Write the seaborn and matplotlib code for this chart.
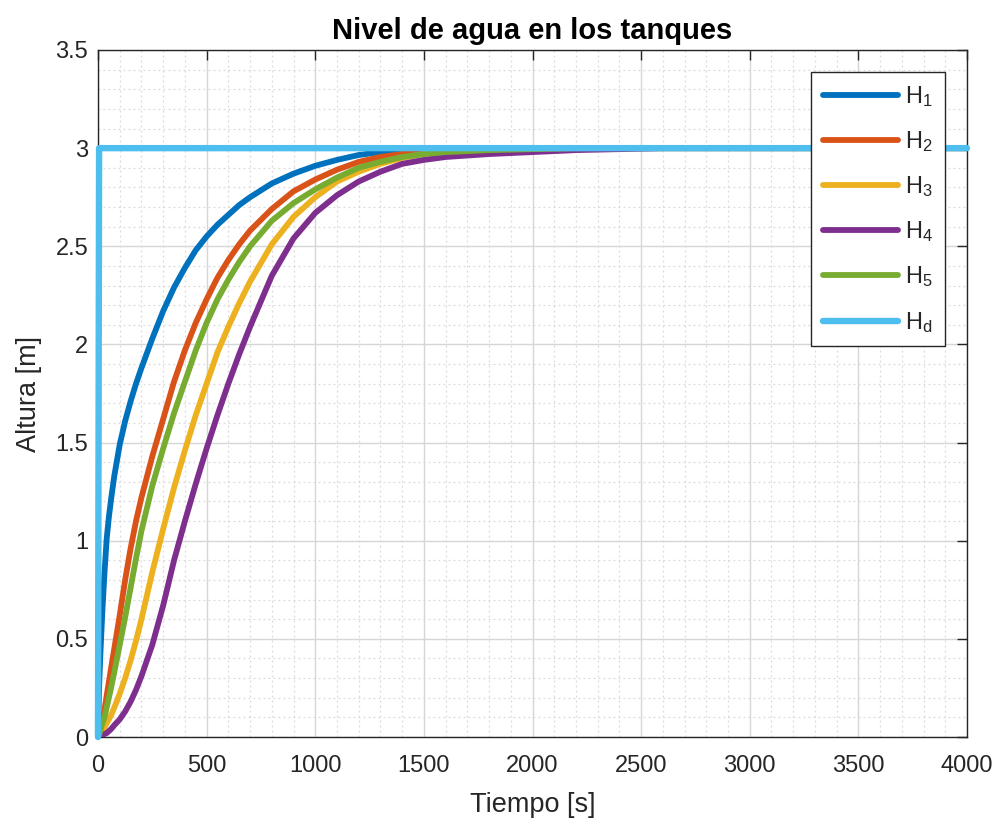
import numpy as np
import pandas as pd
import matplotlib
matplotlib.use("Agg")
import matplotlib.pyplot as plt
from matplotlib.ticker import MultipleLocator
import seaborn as sns

# Simulation time samples [s]
tiempo = [0, 5, 10, 20, 30, 40, 50, 60, 75, 100, 125, 150, 175, 200, 250, 300,
          350, 400, 450, 500, 550, 600, 650, 700, 800, 900, 1000, 1100, 1200,
          1300, 1400, 1500, 1600, 1800, 2000, 2200, 2400, 2600, 3000, 4000]

# Tank levels [m]
h1 = [0.0, 0.25, 0.40, 0.64, 0.84, 1.01, 1.12, 1.21, 1.33, 1.49, 1.61, 1.71, 1.80,
      1.88, 2.03, 2.17, 2.29, 2.39, 2.48, 2.55, 2.61, 2.66, 2.71, 2.75, 2.82, 2.87,
      2.91, 2.94, 2.965, 2.98, 2.99, 2.995, 3.0, 3.0, 3.0, 3.0, 3.0, 3.0, 3.0, 3.0]
h2 = [0.0, 0.01, 0.03, 0.08, 0.14, 0.21, 0.28, 0.35, 0.45, 0.62, 0.80, 0.96, 1.10,
      1.22, 1.43, 1.62, 1.81, 1.97, 2.11, 2.23, 2.34, 2.43, 2.51, 2.58, 2.69, 2.78,
      2.84, 2.89, 2.93, 2.955, 2.97, 2.98, 2.99, 2.995, 3.0, 3.0, 3.0, 3.0, 3.0, 3.0]
h3 = [0.0, 0.0, 0.01, 0.03, 0.05, 0.07, 0.09, 0.11, 0.15, 0.22, 0.30, 0.39, 0.49,
      0.60, 0.84, 1.06, 1.27, 1.46, 1.64, 1.80, 1.96, 2.09, 2.21, 2.32, 2.51, 2.65,
      2.75, 2.83, 2.88, 2.92, 2.95, 2.97, 2.98, 2.99, 2.995, 3.0, 3.0, 3.0, 3.0, 3.0]
h4 = [0.0, 0.0, 0.0, 0.01, 0.015, 0.02, 0.03, 0.04, 0.06, 0.09, 0.13, 0.18, 0.24,
      0.31, 0.47, 0.67, 0.90, 1.10, 1.29, 1.47, 1.64, 1.80, 1.95, 2.09, 2.35, 2.54,
      2.67, 2.76, 2.83, 2.88, 2.92, 2.94, 2.955, 2.97, 2.98, 2.99, 2.995, 3.0, 3.0, 3.0]
h5 = [0.0, 0.01, 0.03, 0.07, 0.10, 0.15, 0.20, 0.25, 0.33, 0.47, 0.61, 0.76, 0.91,
      1.05, 1.28, 1.47, 1.65, 1.81, 1.97, 2.11, 2.23, 2.33, 2.42, 2.50, 2.63, 2.72,
      2.79, 2.85, 2.90, 2.93, 2.955, 2.97, 2.98, 2.99, 2.995, 3.0, 3.0, 3.0, 3.0, 3.0]

# Reference level (step applied at start)
tiempo_ref = [0, 5, 4000]
hd = [0.0, 3.0, 3.0]

series_labels = ["H$_1$", "H$_2$", "H$_3$", "H$_4$", "H$_5$", "H$_d$"]
series_colors = ["#0072BD", "#D95319", "#EDB120", "#7E2F8E", "#77AC30", "#4DBEEE"]

x_ticks = [0, 500, 1000, 1500, 2000, 2500, 3000, 3500, 4000]
y_ticks = [0, 0.5, 1, 1.5, 2, 2.5, 3, 3.5]
y_tick_labels = ["0", "0.5", "1", "1.5", "2", "2.5", "3", "3.5"]

sns.set_theme(style="white")
plt.rcParams["font.family"] = ["Liberation Sans", "DejaVu Sans"]
plt.rcParams["mathtext.default"] = "regular"

axis_gray = "#262626"

fig = plt.figure(figsize=(10.02, 8.19), dpi=100)
ax = fig.add_axes([98 / 1002, 1 - 737 / 819, (967 - 98) / 1002, (737 - 50) / 819])

levels = [h1, h2, h3, h4, h5]
for vals, lab, col in zip(levels, series_labels[:5], series_colors[:5]):
    df = pd.DataFrame({"t": tiempo, "h": vals})
    sns.lineplot(data=df, x="t", y="h", ax=ax, color=col, linewidth=4.2,
                 label=lab, estimator=None, sort=False, zorder=3,
                 solid_joinstyle="round")

df_ref = pd.DataFrame({"t": tiempo_ref, "h": hd})
sns.lineplot(data=df_ref, x="t", y="h", ax=ax, color=series_colors[5], linewidth=4.6,
             label=series_labels[5], estimator=None, sort=False, zorder=4, clip_on=False)

ax.set_xlim(0, 4000)
ax.set_ylim(0, 3.5)
ax.set_xticks(x_ticks)
ax.set_yticks(y_ticks)
ax.set_xticklabels([str(v) for v in x_ticks])
ax.set_yticklabels(y_tick_labels)
ax.xaxis.set_minor_locator(MultipleLocator(100))
ax.yaxis.set_minor_locator(MultipleLocator(0.1))

ax.grid(which="major", color="#d6d6d6", linewidth=1.0, linestyle="-")
ax.grid(which="minor", color="#dadada", linewidth=0.9, linestyle=(0, (1.5, 2.5)))
ax.set_axisbelow(True)

ax.tick_params(which="major", direction="in", length=7, width=1.0, color=axis_gray,
               top=True, right=True, labelsize=17, labelcolor=axis_gray)
ax.tick_params(axis="x", which="major", pad=13)
ax.tick_params(axis="y", which="major", pad=7)
ax.tick_params(which="minor", length=0, top=True, right=True)
for sp in ax.spines.values():
    sp.set_color(axis_gray)
    sp.set_linewidth(1.0)

ax.set_xlabel("Tiempo [s]", fontsize=19.5, color=axis_gray, labelpad=11)
ax.set_ylabel("Altura [m]", fontsize=19.5, color=axis_gray, labelpad=10)
ax.set_title("Nivel de agua en los tanques", fontsize=21, fontweight="bold",
             color="black", pad=8)

leg = ax.legend(loc="upper right", fontsize=17, handlelength=3.2, labelspacing=0.86,
                borderpad=0.5, handletextpad=0.3, borderaxespad=0.93,
                fancybox=False, framealpha=1, edgecolor=axis_gray)
leg.get_frame().set_linewidth(1.0)
leg.set_zorder(10)

fig.savefig("out.png", dpi=100)
